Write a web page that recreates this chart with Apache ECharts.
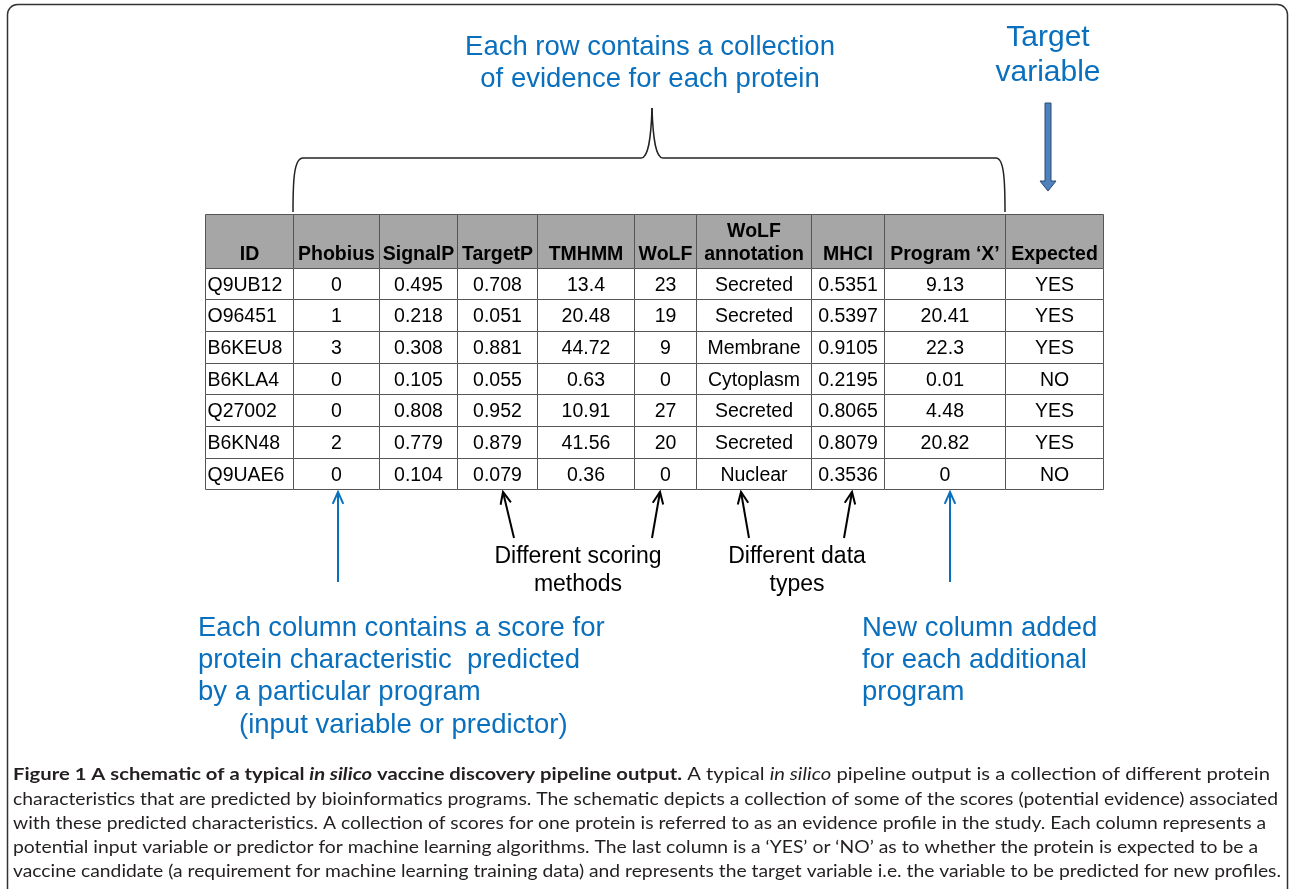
<!DOCTYPE html>
<html>
<head>
<meta charset="utf-8">
<script src="https://cdn.jsdelivr.net/npm/echarts@6/dist/echarts.min.js"></script>
<style>
html,body{margin:0;padding:0;background:#fff;}
#main{width:1290px;height:889px;}
</style>
</head>
<body>
<div id="main"></div>
<script>
// table data
var headers = ['ID', 'Phobius', 'SignalP', 'TargetP', 'TMHMM', 'WoLF', 'WoLF\nannotation', 'MHCI', 'Program \u2018X\u2019', 'Expected'];
var ids = ['Q9UB12', 'O96451', 'B6KEU8', 'B6KLA4', 'Q27002', 'B6KN48', 'Q9UAE6'];
var phobius = [0, 1, 3, 0, 0, 2, 0];
var signalP = [0.495, 0.218, 0.308, 0.105, 0.808, 0.779, 0.104];
var targetP = [0.708, 0.051, 0.881, 0.055, 0.952, 0.879, 0.079];
var tmhmm = [13.4, 20.48, 44.72, 0.63, 10.91, 41.56, 0.36];
var wolf = [23, 19, 9, 0, 27, 20, 0];
var wolfAnnotation = ['Secreted', 'Secreted', 'Membrane', 'Cytoplasm', 'Secreted', 'Secreted', 'Nuclear'];
var mhci = [0.5351, 0.5397, 0.9105, 0.2195, 0.8065, 0.8079, 0.3536];
var programX = [9.13, 20.41, 22.3, 0.01, 4.48, 20.82, 0];
var expected = ['YES', 'YES', 'YES', 'NO', 'YES', 'YES', 'NO'];
var columns = [ids, phobius, signalP, targetP, tmhmm, wolf, wolfAnnotation, mhci, programX, expected];

// caption text, split in lines as printed: [style, text]
var captionLines = [
	[['b', 'Figure 1 A schematic of a typical '], ['bi', 'in silico'], ['b', ' vaccine discovery pipeline output.'], ['r', ' A typical '], ['i', 'in silico'], ['r', ' pipeline output is a collection of different protein']],
	[['r', 'characteristics that are predicted by bioinformatics programs. The schematic depicts a collection of some of the scores (potential evidence) associated']],
	[['r', 'with these predicted characteristics. A collection of scores for one protein is referred to as an evidence profile in the study. Each column represents a']],
	[['r', 'potential input variable or predictor for machine learning algorithms. The last column is a \u2018YES\u2019 or \u2018NO\u2019 as to whether the protein is expected to be a']],
	[['r', 'vaccine candidate (a requirement for machine learning training data) and represents the target variable i.e. the variable to be predicted for new profiles.']]
];

// layout
var colEdges = [0, 88, 174, 252, 332, 429, 491, 606, 679, 800, 898];
var headH = 53.5, rowH = 31.7;
var BLUE = '#0a70bd';
var TABLE_FONT = '"Liberation Sans", Arial, sans-serif';
var CAP_FONT = 'Lato, "Open Sans", sans-serif';
var CAP_SIZE = 17;

var cells = [];
for (var r = 0; r <= ids.length; r++) {
	for (var c = 0; c < headers.length; c++) {
		cells.push([c, r]);
	}
}

function renderCell(params, api) {
	var c = api.value(0), r = api.value(1);
	var top = r === 0 ? 0 : headH + (r - 1) * rowH;
	var bot = r === 0 ? headH : headH + r * rowH;
	var p0 = api.coord([colEdges[c], top]);
	var p1 = api.coord([colEdges[c + 1], bot]);
	var x0 = Math.round(p0[0]) + 0.5, y0 = Math.round(p0[1]) + 0.5;
	var x1 = Math.round(p1[0]) + 0.5, y1 = Math.round(p1[1]) + 0.5;
	var children = [{
		type: 'rect',
		shape: {x: x0, y: y0, width: x1 - x0, height: y1 - y0},
		style: {fill: r === 0 ? '#a6a6a6' : '#fff', stroke: '#555', lineWidth: 1}
	}];
	if (r === 0) {
		var lines = headers[c].split('\n');
		for (var i = 0; i < lines.length; i++) {
			children.push({
				type: 'text',
				style: {
					text: lines[i], x: (x0 + x1) / 2, y: y1 - 14 - (lines.length - 1 - i) * 23,
					align: 'center', verticalAlign: 'middle',
					fontFamily: TABLE_FONT, fontSize: 19.5, fontWeight: 'bold', fill: '#000'
				}
			});
		}
	} else {
		children.push({
			type: 'text',
			style: {
				text: String(columns[c][r - 1]),
				x: c === 0 ? x0 + 2 : (x0 + x1) / 2, y: (y0 + y1) / 2 + 1.5,
				align: c === 0 ? 'left' : 'center', verticalAlign: 'middle',
				fontFamily: TABLE_FONT, fontSize: 19.5, fill: '#000'
			}
		});
	}
	return {type: 'group', children: children};
}

function arrow(x1, y1, x2, y2, color) {
	var a = Math.atan2(y2 - y1, x2 - x1), L = 13, s = 0.42;
	var h1 = [x2 - L * Math.cos(a - s), y2 - L * Math.sin(a - s)];
	var h2 = [x2 - L * Math.cos(a + s), y2 - L * Math.sin(a + s)];
	return [
		{type: 'polyline', shape: {points: [[x1, y1], [x2, y2]]}, style: {stroke: color, lineWidth: 2, fill: null}},
		{type: 'polyline', shape: {points: [h1, [x2, y2], h2]}, style: {stroke: color, lineWidth: 2, fill: null}}
	];
}

function label(text, x, y, size, color, align) {
	return {
		type: 'text', x: x, y: y,
		style: {text: text, align: align || 'left', verticalAlign: 'middle',
			fontFamily: TABLE_FONT, fontSize: size, fill: color}
	};
}

function curve(x1, y1, cx1, cy1, cx2, cy2, x2, y2) {
	return {type: 'bezierCurve', shape: {x1: x1, y1: y1, cpx1: cx1, cpy1: cy1, cpx2: cx2, cpy2: cy2, x2: x2, y2: y2},
		style: {fill: null, stroke: '#222', lineWidth: 1.5}};
}
function seg(x1, y1, x2, y2) {
	return {type: 'line', shape: {x1: x1, y1: y1, x2: x2, y2: y2}, style: {stroke: '#222', lineWidth: 1.5}};
}

// caption: squeeze each line to the printed width
var measure = document.createElement('canvas').getContext('2d');
var capStyles = {
	b: {fontWeight: 'bold', fontStyle: 'normal'},
	bi: {fontWeight: 'bold', fontStyle: 'italic'},
	r: {fontWeight: 'normal', fontStyle: 'normal'},
	i: {fontWeight: 'normal', fontStyle: 'italic'}
};
var capRight = [1270, 1278, 1266, 1258, 1281];
var capY = [775, 800, 824, 848, 872];
var captionEls = [];
var rich = {};
for (var k in capStyles) {
	rich[k] = {fontWeight: capStyles[k].fontWeight, fontStyle: capStyles[k].fontStyle,
		fontSize: CAP_SIZE, fontFamily: CAP_FONT, fill: '#231f20'};
}
captionLines.forEach(function (line, li) {
	var w = 0, txt = '';
	line.forEach(function (s) {
		var st = capStyles[s[0]];
		measure.font = st.fontStyle + ' ' + st.fontWeight + ' ' + CAP_SIZE + 'px ' + CAP_FONT;
		w += measure.measureText(s[1]).width;
		txt += '{' + s[0] + '|' + s[1] + '}';
	});
	captionEls.push({
		type: 'text', x: 13, y: capY[li], scaleX: (capRight[li] - 13) / w,
		style: {text: txt, rich: rich, verticalAlign: 'middle', align: 'left'}
	});
});

var graphics = [
	{type: 'rect', shape: {x: 7.5, y: 4.5, width: 1280, height: 1000, r: 10},
		style: {fill: null, stroke: '#333', lineWidth: 1.5}},
	// brace over the evidence columns
	curve(293, 212, 293, 180, 294, 158, 303, 158),
	seg(303, 158, 641, 158),
	curve(641, 158, 648, 158, 651, 140, 652, 108),
	curve(652, 108, 653, 140, 656, 158, 663, 158),
	seg(663, 158, 996, 158),
	curve(996, 158, 1004, 158, 1005, 180, 1005, 212),
	// target variable arrow
	{type: 'polygon', shape: {points: [[1045, 103], [1051, 103], [1051, 181], [1056, 181], [1048, 191], [1040, 181], [1045, 181]]},
		style: {fill: '#4f81bd', stroke: '#2c4a70', lineWidth: 1}},
	label('Each row contains a collection', 650, 47, 27.5, BLUE, 'center'),
	label('of evidence for each protein', 650, 79, 27.5, BLUE, 'center'),
	label('Target', 1048, 38, 30, BLUE, 'center'),
	label('variable', 1048, 73, 30, BLUE, 'center'),
	label('Different scoring', 578, 557, 23, '#000', 'center'),
	label('methods', 578, 585, 23, '#000', 'center'),
	label('Different data', 797, 557, 23, '#000', 'center'),
	label('types', 797, 585, 23, '#000', 'center'),
	label('Each column contains a score for', 198, 628, 27.5, BLUE),
	label('protein characteristic  predicted', 198, 660, 27.5, BLUE),
	label('by a particular program', 198, 692, 27.5, BLUE),
	label('(input variable or predictor)', 239, 725, 27.5, BLUE),
	label('New column added', 862, 628, 27.5, BLUE),
	label('for each additional', 862, 660, 27.5, BLUE),
	label('program', 862, 692, 27.5, BLUE)
]
	.concat(arrow(338, 582, 338, 492, BLUE))
	.concat(arrow(950, 582, 950, 492, BLUE))
	.concat(arrow(514, 538, 503, 492, '#000'))
	.concat(arrow(652, 538, 660, 492, '#000'))
	.concat(arrow(749, 538, 741, 492, '#000'))
	.concat(arrow(844, 538, 852, 492, '#000'))
	.concat(captionEls);

var chart = echarts.init(document.getElementById('main'));
chart.setOption({
	backgroundColor: '#fff',
	animation: false,
	grid: {left: 205, top: 214, width: 898, height: headH + rowH * ids.length},
	xAxis: {type: 'value', min: 0, max: 898, show: false},
	yAxis: {type: 'value', min: 0, max: headH + rowH * ids.length, inverse: true, show: false},
	series: [{
		type: 'custom',
		renderItem: renderCell,
		data: cells,
		silent: true
	}],
	graphic: graphics
});
</script>
</body>
</html>
